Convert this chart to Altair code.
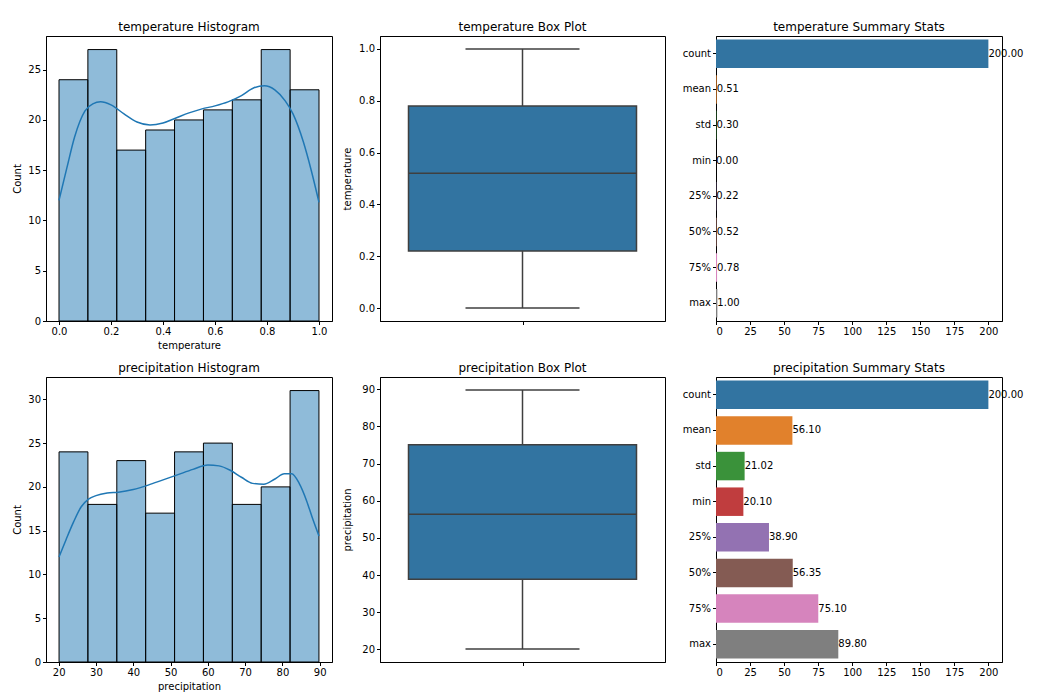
import altair as alt
import pandas as pd

FONT = "DejaVu Sans"

# ---------------- data ----------------
temp_edges = [0.0, 0.1111, 0.2222, 0.3333, 0.4444, 0.5556, 0.6667, 0.7778, 0.8889, 1.0]
temp_counts = [24, 27, 17, 19, 20, 21, 22, 27, 23]
temp_kde_x = [0.0, 0.03, 0.06, 0.1, 0.13, 0.16, 0.2, 0.25, 0.3, 0.35, 0.4, 0.45, 0.5, 0.55, 0.6,
              0.65, 0.7, 0.75, 0.79, 0.83, 0.87, 0.9, 0.94, 0.97, 1.0]
temp_kde_y = [12.0, 15.2, 18.3, 20.9, 21.6, 21.8, 21.5, 20.6, 19.8, 19.5, 19.7, 20.2, 20.7, 21.1, 21.4,
              21.8, 22.4, 23.2, 23.4, 23.0, 21.9, 20.6, 17.8, 15.0, 11.8]

precip_edges = [20.1, 27.84, 35.59, 43.33, 51.08, 58.82, 66.57, 74.31, 82.06, 89.8]
precip_counts = [24, 18, 23, 17, 24, 25, 18, 20, 31]
precip_kde_x = [20.1, 22.0, 24.0, 26.0, 28.0, 30.0, 33.0, 36.0, 40.0, 44.0, 48.0, 52.0, 56.0, 60.0,
                63.0, 66.0, 69.0, 72.0, 75.0, 78.0, 80.5, 82.5, 84.5, 86.5, 88.0, 89.8]
precip_kde_y = [12.0, 14.0, 16.0, 17.7, 18.6, 19.0, 19.3, 19.4, 19.7, 20.2, 20.8, 21.4, 22.0, 22.5,
                22.4, 21.9, 21.1, 20.4, 20.3, 20.9, 21.5, 21.5, 20.4, 18.4, 16.5, 14.4]

# box plot stats: min whisker, q1, median, q3, max whisker
temp_box = [0.0, 0.22, 0.52, 0.78, 1.0]
precip_box = [20.1, 38.9, 56.35, 75.1, 89.8]

stat_names = ["count", "mean", "std", "min", "25%", "50%", "75%", "max"]
temp_stats = [200.0, 0.51, 0.30, 0.00, 0.22, 0.52, 0.78, 1.00]
precip_stats = [200.0, 56.10, 21.02, 20.10, 38.90, 56.35, 75.10, 89.80]
palette = ["#3274a1", "#e1812c", "#3a923a", "#c03d3e", "#9372b2", "#845b53", "#d684bd", "#7f7f7f"]

W, H = 286, 285
BW = 285


def hist_panel(name, edges, counts, kx, ky, xdom, ydom, xticks, yticks, xfmt):
    df = pd.DataFrame({"start": edges[:-1], "end": edges[1:], "count": counts})
    kde = pd.DataFrame({"x": kx, "y": ky})
    xs = alt.Scale(domain=xdom, nice=False, zero=False)
    ys = alt.Scale(domain=ydom, nice=False)
    xax = alt.Axis(values=xticks, format=xfmt, title=name)
    yax = alt.Axis(values=yticks, title="Count", minExtent=20, maxExtent=20)
    bars = alt.Chart(df).mark_bar(fill="#1f77b4", fillOpacity=0.5, stroke="black",
                                  strokeWidth=1).encode(
        x=alt.X("start:Q", scale=xs, axis=xax),
        x2="end:Q",
        y=alt.Y("count:Q", scale=ys, axis=yax),
        y2=alt.datum(0),
    )
    line = alt.Chart(kde).mark_line(color="#1f77b4", strokeWidth=1.5, interpolate="monotone").encode(
        x=alt.X("x:Q", scale=xs, axis=xax), y=alt.Y("y:Q", scale=ys, axis=yax)
    )
    return (bars + line).properties(width=W, height=H, title=f"{name} Histogram")


def box_panel(name, st, ydom, yticks, yfmt):
    df = pd.DataFrame({"lo": [st[0]], "q1": [st[1]], "med": [st[2]], "q3": [st[3]], "hi": [st[4]],
                       "c": [0.0], "l": [-0.4], "r": [0.4], "cl": [-0.2], "cr": [0.2]})
    xs = alt.Scale(domain=[-0.5, 0.5], nice=False, zero=False)
    ys = alt.Scale(domain=ydom, nice=False, zero=False)
    base = alt.Chart(df)
    xax = alt.Axis(values=[0], labels=False, title=None)
    yax = alt.Axis(values=yticks, format=yfmt, title=name, minExtent=24, maxExtent=24)
    lc = "#3f3f3f"

    def X(f):
        return alt.X(f, scale=xs, axis=xax)

    def Y(f):
        return alt.Y(f, scale=ys, axis=yax)

    wl = base.mark_rule(color=lc, strokeWidth=1.5).encode(x=X("c:Q"), y=Y("lo:Q"), y2="q1:Q")
    wh = base.mark_rule(color=lc, strokeWidth=1.5).encode(x=X("c:Q"), y=Y("q3:Q"), y2="hi:Q")
    box = base.mark_bar(fill="#3274a1", stroke=lc, strokeWidth=1.5).encode(
        x=X("l:Q"), x2="r:Q", y=Y("q1:Q"), y2="q3:Q")
    med = base.mark_rule(color=lc, strokeWidth=1.5).encode(x=X("l:Q"), x2="r:Q", y=Y("med:Q"))
    capl = base.mark_rule(color=lc, strokeWidth=1.5).encode(x=X("cl:Q"), x2="cr:Q", y=Y("lo:Q"))
    caph = base.mark_rule(color=lc, strokeWidth=1.5).encode(x=X("cl:Q"), x2="cr:Q", y=Y("hi:Q"))
    return (wl + wh + box + med + capl + caph).properties(width=BW, height=H, title=f"{name} Box Plot")


def stats_panel(name, vals):
    df = pd.DataFrame({"stat": stat_names, "value": vals})
    xs = alt.Scale(domain=[0, 210], nice=False)
    ysc = alt.Scale(domain=stat_names, paddingInner=0.2, paddingOuter=0.1)
    xax = alt.Axis(values=list(range(0, 201, 25)), title=None, labelOverlap=False)
    yax = alt.Axis(title=None, minExtent=41, maxExtent=41)
    base = alt.Chart(df)
    bars = base.mark_bar().encode(
        y=alt.Y("stat:N", scale=ysc, sort=stat_names, axis=yax),
        x=alt.X("value:Q", scale=xs, axis=xax),
        color=alt.Color("stat:N", scale=alt.Scale(domain=stat_names, range=palette), legend=None),
    )
    txt = base.mark_text(align="left", baseline="middle", font=FONT, fontSize=10, color="black").encode(
        y=alt.Y("stat:N", scale=ysc, sort=stat_names, axis=yax),
        x=alt.X("value:Q", scale=xs, axis=xax),
        text=alt.Text("value:Q", format=".2f"),
    )
    return (bars + txt).properties(width=W, height=H, title=f"{name} Summary Stats")


row1 = alt.hconcat(
    hist_panel("temperature", temp_edges, temp_counts, temp_kde_x, temp_kde_y,
               [-0.05, 1.05], [0, 28.35], [0, 0.2, 0.4, 0.6, 0.8, 1.0], [0, 5, 10, 15, 20, 25], ".1f"),
    box_panel("temperature", temp_box, [-0.05, 1.05], [0, 0.2, 0.4, 0.6, 0.8, 1.0], ".1f"),
    stats_panel("temperature", temp_stats),
    spacing=8,
)
row2 = alt.hconcat(
    hist_panel("precipitation", precip_edges, precip_counts, precip_kde_x, precip_kde_y,
               [16.6, 93.3], [0, 32.55], list(range(20, 91, 10)), [0, 5, 10, 15, 20, 25, 30], "d"),
    box_panel("precipitation", precip_box, [16.6, 93.3], list(range(20, 91, 10)), "d"),
    stats_panel("precipitation", precip_stats),
    spacing=8,
)

chart = alt.vconcat(row1, row2, spacing=10).configure_view(
    stroke="black", strokeWidth=1
).configure_axis(
    grid=False, domainColor="black", tickColor="black", labelColor="black", titleColor="black",
    labelFont=FONT, titleFont=FONT, labelFontSize=10, titleFontSize=10, titleFontWeight="normal",
    tickSize=3.5, domain=True, titlePadding=4,
).configure_title(
    font=FONT, fontSize=12, fontWeight="normal", color="black", offset=2
).properties(padding={"left": 3, "top": 12, "right": 5, "bottom": 5})

chart.save("out.html", embed_options={"renderer": "svg", "actions": False})
